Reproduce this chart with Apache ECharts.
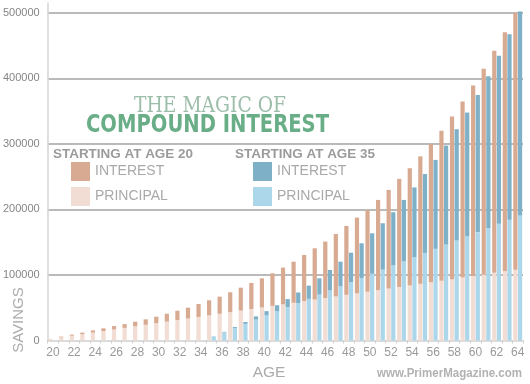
<!DOCTYPE html>
<html><head><meta charset="utf-8">
<script src="https://cdn.jsdelivr.net/npm/echarts@6/dist/echarts.min.js"></script>
<style>html,body{margin:0;padding:0;background:#fff}#c{width:530px;height:384px}</style>
</head><body><div id="c"></div>
<script>
// ---- data ----
const ages = ['20','21','22','23','24','25','26','27','28','29','30','31','32','33','34','35','36','37','38','39','40','41','42','43','44','45','46','47','48','49','50','51','52','53','54','55','56','57','58','59','60','61','62','63','64'];
const yTicks = [0, 100000, 200000, 300000, 400000, 500000];
const principal20 = [2400,4800,7200,9600,12000,14400,16800,19200,21600,24000,26400,28800,31200,33600,36000,38400,40800,43200,45600,48000,50400,52800,55200,57600,60000,62400,64800,67200,69600,72000,74400,76800,79200,81600,84000,86400,88800,91200,93600,96000,98400,100800,103200,105600,108000];
const interest20 = [0,1100,1700,2400,3500,4200,5200,5800,7100,8300,9900,12100,14300,16500,19700,23000,26100,30400,35000,39800,44500,49800,56000,62600,70500,78300,86100,95400,105200,115500,124800,137700,150600,165000,178900,194600,211200,228800,248100,268600,290600,313700,338800,364900,392500];
const principal35 = [null,null,null,null,null,null,null,null,null,null,null,null,null,null,null,6400,12700,19100,25400,31800,38200,44500,50900,57200,63600,70000,76300,82700,89000,95400,101800,108100,114500,120800,127200,133600,139900,146300,152600,159000,165400,171700,178100,184400,190800];
const interest35 = [null,null,null,null,null,null,null,null,null,null,null,null,null,null,null,0,500,1400,2800,5000,6600,9300,12300,16100,20100,24900,31300,37600,45000,52900,61800,70800,81200,93700,106400,120400,135700,151100,169800,188800,209400,231700,256300,283100,311200];
const legendNames20 = ['INTEREST', 'PRINCIPAL'];
const legendNames35 = ['INTEREST', 'PRINCIPAL'];

// ---- helpers ----
const mctx = document.createElement('canvas').getContext('2d');
function textW(t, font){ mctx.font = font; return mctx.measureText(t).width; }
function fitText(t, x, y, target, size, family, weight, fill){
  const f = (weight||'normal') + ' ' + size + 'px ' + family;
  const w = textW(t, f);
  return {type:'text', x:x, y:y, scaleX: target / w, silent:true,
    style:{text:t, fontSize:size, fontFamily:family, fontWeight:weight||'normal', fill:fill, textAlign:'left', textVerticalAlign:'middle'}};
}
const legFamily = '"Liberation Sans", Arial, sans-serif';
const legSize = 14;

const C_I20 = '#d9aa92', C_P20 = '#f1ddd3', C_I35 = '#7eb0c8', C_P35 = '#acd7ea';

const chart = echarts.init(document.getElementById('c'), null, {renderer:'canvas'});
const legendCommon = {orient:'vertical', itemWidth:19, itemHeight:19, itemGap:6, padding:0, selectedMode:false, icon:'rect',
  textStyle:{color:'#a9a9a9', fontSize:legSize, fontFamily:legFamily}};

chart.setOption({
  animation:false,
  backgroundColor:'#fff',
  grid:{left:46, right:7, top:3, bottom:43.5, containLabel:false},
  xAxis:{type:'category', data:ages, boundaryGap:true,
    axisLine:{lineStyle:{color:'#cfcfcf', width:1.5}},
    axisTick:{show:true, interval:0, length:3, lineStyle:{color:'#cfcfcf'}},
    axisLabel:{interval:1, color:'#9a9a9a', fontSize:12, margin:6, fontFamily:'"Liberation Sans", Arial, sans-serif'}},
  yAxis:{type:'value', min:0, max:515000, interval:100000,
    axisLine:{show:true, lineStyle:{color:'#d4d4d4', width:1.5}},
    axisTick:{show:false},
    axisLabel:{color:'#858585', fontSize:11, margin:8, showMaxLabel:false, fontFamily:'"Liberation Sans", Arial, sans-serif',
      formatter: v => yTicks.indexOf(v) >= 0 ? String(v) : ''},
    splitLine:{show:true, showMinLine:false, showMaxLine:false, lineStyle:{color:'#a3a3a3', width:1.6}}},
  legend:[
    Object.assign({left:71, top:162, data:['Interest 20','Principal 20'], formatter: n => legendNames20[n.indexOf('Interest')===0?0:1]}, legendCommon),
    Object.assign({left:253, top:162, data:['Interest 35','Principal 35'], formatter: n => legendNames35[n.indexOf('Interest')===0?0:1]}, legendCommon)
  ],
  series:[
    {name:'Principal 20', type:'bar', stack:'a', data:principal20, barWidth:'40%', itemStyle:{color:C_P20}},
    {name:'Interest 20', type:'bar', stack:'a', data:interest20, barWidth:'40%', itemStyle:{color:C_I20}},
    {name:'Principal 35', type:'bar', stack:'b', data:principal35, barWidth:'40%', itemStyle:{color:C_P35}},
    {name:'Interest 35', type:'bar', stack:'b', data:interest35, barWidth:'40%', barGap:'10%', itemStyle:{color:C_I35}}
  ],
  graphic:[
    fitText('THE MAGIC OF', 134, 106.5, 152, 23, '"DejaVu Serif", serif', 'normal', '#9cbdaa'),
    fitText('COMPOUND INTEREST', 86, 126, 243, 24, '"DejaVu Sans", sans-serif', 'bold', '#6aae88'),
    fitText('STARTING AT AGE 20', 53, 154, 140, 13, '"Liberation Sans", Arial, sans-serif', 'bold', '#9b9b9b'),
    fitText('STARTING AT AGE 35', 235, 154, 140, 13, '"Liberation Sans", Arial, sans-serif', 'bold', '#9b9b9b'),
    {type:'text', x:19, y:320, rotation:Math.PI/2, silent:true,
      style:{text:'SAVINGS', fontSize:15, fontFamily:'"Liberation Sans", Arial, sans-serif', fill:'#ababab', textAlign:'center', textVerticalAlign:'middle'}},
    {type:'text', x:269, y:372.5, silent:true,
      style:{text:'AGE', fontSize:15.5, fontFamily:'"Liberation Sans", Arial, sans-serif', fill:'#ababab', textAlign:'center', textVerticalAlign:'middle'}},
    fitText('www.PrimerMagazine.com', 377, 374, 145, 12, '"Liberation Sans", Arial, sans-serif', 'bold', '#b2b2b2')
  ]
});
</script></body></html>
